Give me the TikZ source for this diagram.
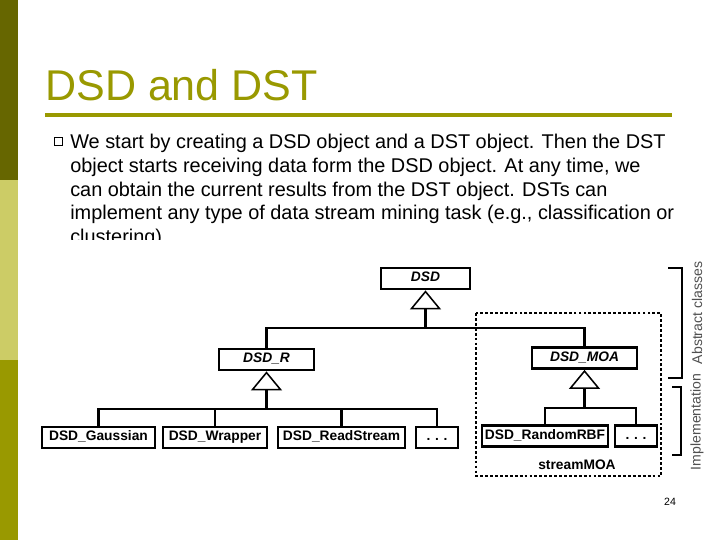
\documentclass[tikz,border=0pt]{standalone}
\usepackage{fontspec}
\setmainfont{Liberation Sans}
\usepackage{tikz}
\usetikzlibrary{
  arrows.meta,
  positioning,
  calc
}
\definecolor{BarDark}{RGB}{102,102,0}
\definecolor{BarLight}{RGB}{204,204,102}
\definecolor{BarOlive}{RGB}{153,153,0}
\definecolor{TitleOlive}{RGB}{153,153,0}
\definecolor{LabelGray}{RGB}{80,80,80}
\tikzset{
  classbox/.style={
    draw=black,
    fill=white,
    line width=1.8pt,
    minimum height=0.53cm,
    inner sep=0pt,
    text height=7.2pt,
    text depth=2.4pt,
    font=\fontsize{9.8}{11}\selectfont\bfseries
  },
  abstractbox/.style={classbox,font=\fontsize{9.8}{11}\selectfont\bfseries\itshape},
  conn/.style={line width=2pt,draw=black},
  inherit/.style={conn,-{Triangle[open,length=13.5pt,width=22pt,line width=1.1pt]}},
  brace/.style={line width=1.2pt,draw=black},
  sidelabel/.style={rotate=90,text=LabelGray,font=\fontsize{10}{12}\selectfont}
}

\begin{document}
\begin{tikzpicture}[x=0.025cm,y=-0.025cm]
  \useasboundingbox (0,0) rectangle (720,540);
  \fill[white] (0,0) rectangle (720,540);

  % side bar
  \fill[BarDark] (0,0) rectangle (18,180);
  \fill[BarLight] (0,180) rectangle (18,360);
  \fill[BarOlive] (0,360) rectangle (18,540);

  % title
  \node[anchor=base west, inner sep=0pt, text=TitleOlive,
        font=\fontsize{30.6}{36}\selectfont] (title) at (45,100) {DSD and DST};
  \draw[TitleOlive, line width=2.2pt] (45,115) -- (672,115);

  % bullet text
  \node[draw=black, line width=0.6pt, minimum size=0.18cm, inner sep=0pt] (bullet) at (58.5,141.5) {};
  \node[anchor=north west, inner sep=0pt, align=left,
        font=\fontsize{14.15}{17}\selectfont] (body) at (70,133.5)
    {We start by creating a DSD object and a DST object. Then the DST\\
     object starts receiving data form the DSD object. At any time, we\\
     can obtain the current results from the DST object. DSTs can\\
     implement any type of data stream mining task (e.g., classification or\\
     clustering)};
  \fill[white] (60,240) rectangle (700,262);

  % class boxes
  \node[abstractbox, minimum width=2.225cm] (dsd) at (425.5,278.5) {DSD};
  \node[abstractbox, minimum width=2.375cm] (dsdr) at (266.5,359.5) {DSD\_R};
  \node[abstractbox, minimum width=2.625cm] (dsdmoa) at (584.5,358) {DSD\_MOA};

  \node[classbox, minimum width=2.825cm] (gauss) at (98.5,437.5) {DSD\_Gaussian};
  \node[classbox, minimum width=2.6cm] (wrapper) at (215,437.5) {DSD\_Wrapper};
  \node[classbox, minimum width=3.175cm] (readstream) at (341.5,437.5) {DSD\_ReadStream};
  \node[classbox, minimum width=1.05cm] (dotsr) at (437,437.5) {.\,\,.\,\,.};
  \node[classbox, minimum width=3.15cm] (rbf) at (545,436) {DSD\_RandomRBF};
  \node[classbox, minimum width=1.05cm] (dotsmoa) at (636,436) {.\,\,.\,\,.};

  % package frame
  \draw[line width=0.8pt, dashed, dash pattern=on 2pt off 1.5pt] (476,313) rectangle (661,476);
  \node[font=\fontsize{9.8}{11}\selectfont\bfseries] (pkg) at (577,465) {streamMOA};

  % inheritance
  \coordinate (busa) at (dsd.south |- 0,328);
  \coordinate (busb) at (dsdr.south |- 0,409);
  \coordinate (busc) at (dsdmoa.south |- 0,408);

  \draw[conn] (dsdr.north) |- (busa) -| (dsdmoa.north);
  \draw[inherit] (busa) -- (dsd.south);

  \draw[conn] (gauss.north) |- (busb) -| (dotsr.north);
  \draw[conn] (wrapper.north) -- (wrapper.north |- busb);
  \draw[conn] (readstream.north) -- (readstream.north |- busb);
  \draw[inherit] (busb) -- (dsdr.south);

  \draw[conn] (rbf.north) |- (busc) -| (dotsmoa.north);
  \draw[inherit] (busc) -- (dsdmoa.south);

  % brackets
  \draw[brace] (668,268) -- (682,268) -- (682,378) -- (668,378);
  \draw[brace] (672,387) -- (681,387) -- (681,455) -- (672,455);
  \node[sidelabel] (abslabel) at (697,313) {Abstract classes};
  \node[sidelabel] (implabel) at (697,422) {Implementation};

  % page number
  \node[font=\fontsize{7.5}{9}\selectfont] (page) at (670,502) {24};
\end{tikzpicture}
\end{document}
